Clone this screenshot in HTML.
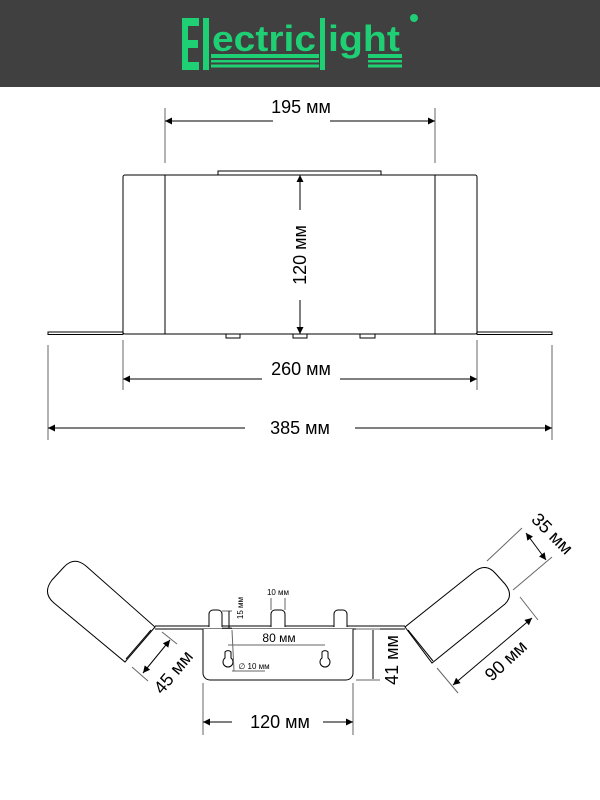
<!DOCTYPE html>
<html><head><meta charset="utf-8"><style>
html,body{margin:0;padding:0;background:#fff}
svg{display:block}
text{font-family:"Liberation Sans",Arial,sans-serif}
</style></head><body>
<svg width="600" height="800" viewBox="0 0 600 800" xmlns="http://www.w3.org/2000/svg">
<defs>
<marker id="a" viewBox="0 0 10 10" refX="10" refY="5" markerWidth="15" markerHeight="7" markerUnits="userSpaceOnUse" orient="auto-start-reverse"><path d="M0,0L10,5L0,10z" fill="#000"/></marker>
</defs>
<rect x="0" y="0" width="600" height="87" fill="#404040"/>
<g fill="#1ecf73">
<path d="M182 18h17v8h-11v14h10v8h-10v14h11v8h-17z"/>
<rect x="203" y="18" width="6" height="52"/>
<text x="212" y="51" font-size="36" font-weight="bold" textLength="104" lengthAdjust="spacingAndGlyphs">ectric</text>
<rect x="211" y="54" width="108" height="4"/><rect x="211" y="60" width="108" height="2.5"/><rect x="211" y="64.5" width="108" height="3"/>
<rect x="320" y="18" width="5" height="52"/>
<text x="328" y="51" font-size="36" font-weight="bold" textLength="72" lengthAdjust="spacingAndGlyphs">ight</text>
<rect x="368" y="54" width="34" height="4"/><rect x="368" y="60" width="34" height="2.5"/><rect x="368" y="64.5" width="34" height="3"/>
<circle cx="414" cy="18" r="4"/>
</g>

<g stroke="#000" stroke-width="1" fill="none">
<rect x="123" y="175" width="354" height="159" rx="2" fill="#fff"/>
<line x1="165" y1="175" x2="165" y2="334"/>
<line x1="435" y1="175" x2="435" y2="334"/>
<path d="M218 175v-4h163v4"/>
<rect x="48" y="332" width="75" height="2.5"/>
<rect x="477" y="332" width="75" height="2.5"/>
<path d="M226 334v4h14v-4M293 334v4h14v-4M360 334v4h15v-4"/>
</g>
<g stroke="#666" stroke-width="1">
<line x1="165" y1="108" x2="165" y2="163"/><line x1="435" y1="108" x2="435" y2="163"/>
<line x1="123" y1="340" x2="123" y2="390"/><line x1="477" y1="340" x2="477" y2="390"/>
<line x1="48" y1="345" x2="48" y2="440"/><line x1="552" y1="345" x2="552" y2="440"/>
</g>
<g stroke="#000" stroke-width="1">
<line x1="165" y1="121" x2="273" y2="121" marker-start="url(#a)"/><line x1="330" y1="121" x2="435" y2="121" marker-end="url(#a)"/>
<line x1="300" y1="175" x2="300" y2="210" marker-start="url(#a)"/><line x1="300" y1="300" x2="300" y2="334" marker-end="url(#a)"/>
<line x1="123" y1="379" x2="262" y2="379" marker-start="url(#a)"/><line x1="340" y1="379" x2="477" y2="379" marker-end="url(#a)"/>
<line x1="48" y1="428" x2="245" y2="428" marker-start="url(#a)"/><line x1="355" y1="428" x2="552" y2="428" marker-end="url(#a)"/>
</g>
<g font-size="18" text-anchor="middle" fill="#000">
<text x="301" y="113">195 мм</text>
<text x="301" y="375">260 мм</text>
<text x="300" y="434">385 мм</text>
<text transform="translate(306,255) rotate(-90)">120 мм</text>
</g>

<g stroke="#000" stroke-width="1" fill="#fff">
<line x1="155" y1="626" x2="405" y2="626"/>
<line x1="155" y1="629" x2="405" y2="629"/>
<path d="M209 627v-13a4 4 0 0 1 4-4h5a4 4 0 0 1 4 4v13M271 627v-13a4 4 0 0 1 4-4h6a4 4 0 0 1 4 4v13M334 627v-13a4 4 0 0 1 4-4h5a4 4 0 0 1 4 4v13"/>
<path d="M203 629v44a7 7 0 0 0 7 7h136a7 7 0 0 0 7-7v-44"/>
<path d="M225 652a4 4 0 0 1 6 0v6a5 5 0 1 1 -6 0z"/>
<path d="M322 652a4 4 0 0 1 6 0v6a5 5 0 1 1 -6 0z"/>
<path d="M155 627L125 662L54 603Q42 593 52 580L64 567Q74 556 86 566Z"/>
<line x1="151" y1="630" x2="126" y2="659"/>
<path d="M405 627L432 663L505 604Q514 595 505 584L496 574Q486 562 474 572Z"/>
<line x1="408" y1="630" x2="433" y2="661"/>
</g>
<g stroke="#666" stroke-width="1">
<line x1="203" y1="683" x2="203" y2="735"/><line x1="353" y1="683" x2="353" y2="735"/>
<line x1="356" y1="629" x2="380" y2="629"/><line x1="356" y1="680" x2="380" y2="680"/>
<line x1="162" y1="632" x2="177" y2="644"/><line x1="132" y1="667" x2="148" y2="681"/>
<line x1="487" y1="561" x2="522" y2="528"/><line x1="513" y1="590" x2="552" y2="557"/>
<line x1="520" y1="597" x2="538" y2="620"/><line x1="437" y1="668" x2="458" y2="693"/>
<line x1="232" y1="630" x2="234" y2="671"/>
<line x1="228" y1="645" x2="325" y2="645"/>
<line x1="232" y1="671" x2="265" y2="671"/>
<line x1="271" y1="598" x2="271" y2="610"/><line x1="285" y1="598" x2="285" y2="610"/>
<line x1="222" y1="611" x2="232" y2="611"/><line x1="222" y1="628" x2="232" y2="628"/>
</g>
<g stroke="#000" stroke-width="1">
<line x1="203" y1="722" x2="232" y2="722" marker-start="url(#a)"/><line x1="323" y1="722" x2="353" y2="722" marker-end="url(#a)"/>
<line x1="170" y1="640" x2="143" y2="673" marker-start="url(#a)" marker-end="url(#a)"/>
<line x1="526" y1="533" x2="546" y2="560" marker-start="url(#a)" marker-end="url(#a)"/>
<line x1="532" y1="618" x2="453" y2="685" marker-start="url(#a)" marker-end="url(#a)"/>
<line x1="373" y1="630" x2="373" y2="679"/>
<line x1="229" y1="611" x2="229" y2="628"/>
</g>
<g font-size="18" text-anchor="middle" fill="#000">
<text x="280" y="728">120 мм</text>
<text transform="translate(178,676) rotate(-50)">45 мм</text>
<text transform="translate(510,665) rotate(-43)">90 мм</text>
<text transform="translate(548,538) rotate(45)">35 мм</text>
<text transform="translate(398,660) rotate(-90)">41 мм</text>
</g>
<g font-size="10" text-anchor="middle" fill="#000">
<text x="279" y="642" font-size="12">80 мм</text>
<text x="278" y="595" font-size="8">10 мм</text>
<text x="254" y="669" font-size="8">∅ 10 мм</text>
<text transform="translate(243,608) rotate(-90)" font-size="8">15 мм</text>
</g>
</svg>
</body></html>
